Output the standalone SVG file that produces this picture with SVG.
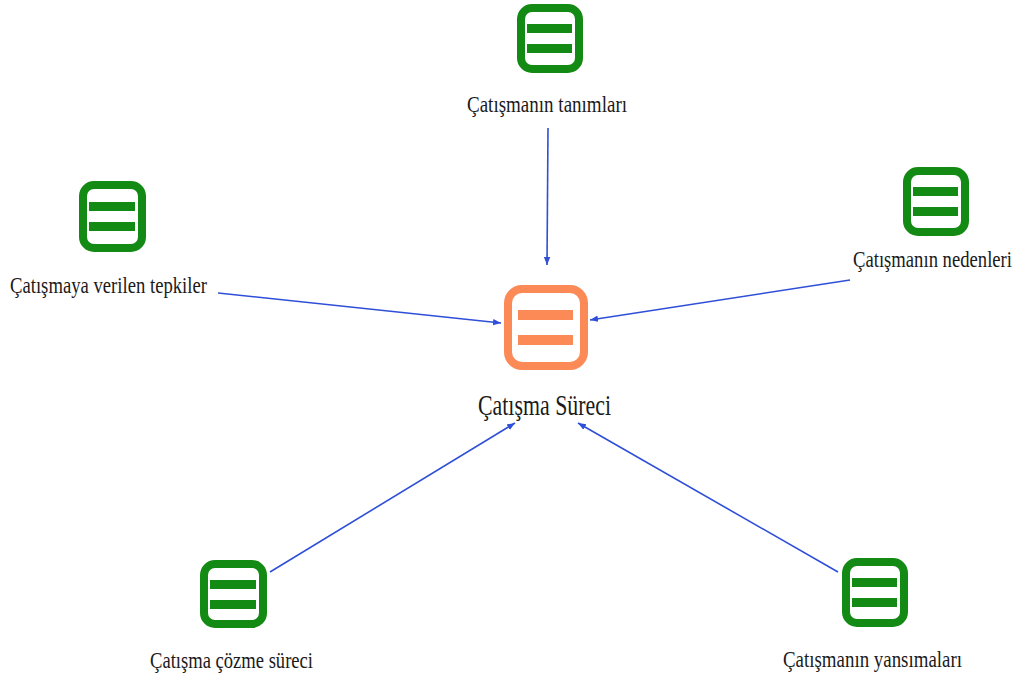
<svg xmlns="http://www.w3.org/2000/svg" width="1019" height="680" viewBox="0 0 1019 680">
<defs>
<marker id="arr" viewBox="0 0 10 10" refX="10" refY="5" markerWidth="8" markerHeight="8" markerUnits="userSpaceOnUse" orient="auto">
<path d="M0,1 L10,5 L0,9 z" fill="#2f4fd8"/>
</marker>
</defs>
<style>
.box{fill:#fff;stroke:#138a13;stroke-width:8}
.bar{fill:#138a13}
.cbox{fill:#fff;stroke:#fb8a57;stroke-width:8}
.cbar{fill:#fb8a57}
.lbl{font-family:"Liberation Serif","Times New Roman",serif;font-size:24px;fill:#1a1a1a}
.clbl{font-family:"Liberation Serif","Times New Roman",serif;font-size:29px;fill:#1a1a1a}
.edge{stroke:#2f4fd8;stroke-width:1.6;fill:none;marker-end:url(#arr)}
</style>
<rect width="1019" height="680" fill="#fff"/>
<g id="connectors">
<line class="edge" x1="548" y1="128" x2="547" y2="265"/>
<line class="edge" x1="218" y1="293" x2="501" y2="323"/>
<line class="edge" x1="850" y1="280" x2="590" y2="320"/>
<line class="edge" x1="270" y1="572" x2="515" y2="423"/>
<line class="edge" x1="838" y1="572" x2="578" y2="423"/>
</g>
<g id="center">
<rect class="cbox" x="508" y="289" width="76" height="77" rx="14"/>
<rect class="cbar" x="518" y="310" width="55" height="10"/>
<rect class="cbar" x="518" y="335" width="55" height="10"/>
<text class="clbl" x="478" y="415" textLength="133" lengthAdjust="spacingAndGlyphs">Çatışma Süreci</text>
</g>
<g id="n-tanimlari">
<rect class="box" x="521" y="8" width="58" height="61" rx="11"/>
<rect class="bar" x="527" y="24" width="45" height="9"/>
<rect class="bar" x="527" y="44" width="45" height="9"/>
<text class="lbl" x="467" y="112" textLength="160" lengthAdjust="spacingAndGlyphs">Çatışmanın tanımları</text>
</g>
<g id="n-tepkiler">
<rect class="box" x="83" y="185" width="59" height="63" rx="11"/>
<rect class="bar" x="89" y="202" width="46" height="9"/>
<rect class="bar" x="89" y="222" width="46" height="9"/>
<text class="lbl" x="10" y="293" textLength="197" lengthAdjust="spacingAndGlyphs">Çatışmaya verilen tepkiler</text>
</g>
<g id="n-nedenleri">
<rect class="box" x="907" y="171" width="58" height="61" rx="11"/>
<rect class="bar" x="913" y="187" width="45" height="9"/>
<rect class="bar" x="913" y="207" width="45" height="9"/>
<text class="lbl" transform="translate(853,267) scale(1,1.26)" x="0" y="0" style="font-size:19px" textLength="159" lengthAdjust="spacingAndGlyphs">Çatışmanın nedenleri</text>
</g>
<g id="n-cozme">
<rect class="box" x="204" y="564" width="59" height="60" rx="11"/>
<rect class="bar" x="210" y="580" width="46" height="9"/>
<rect class="bar" x="210" y="600" width="46" height="9"/>
<text class="lbl" x="150" y="668" textLength="163" lengthAdjust="spacingAndGlyphs">Çatışma çözme süreci</text>
</g>
<g id="n-yansimalari">
<rect class="box" x="846" y="562" width="58" height="61" rx="11"/>
<rect class="bar" x="852" y="578" width="45" height="9"/>
<rect class="bar" x="852" y="598" width="45" height="9"/>
<text class="lbl" x="783" y="667" textLength="179" lengthAdjust="spacingAndGlyphs">Çatışmanın yansımaları</text>
</g>
</svg>
